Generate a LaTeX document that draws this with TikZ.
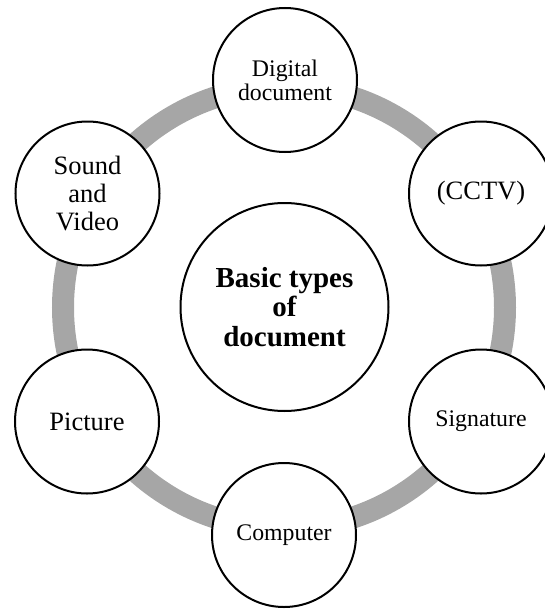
\documentclass[tikz,border=0pt]{standalone}
\usepackage{fontspec}
\setmainfont{Liberation Serif}
\definecolor{ringgray}{RGB}{166,166,166}
\begin{document}
\begin{tikzpicture}[x=1pt,y=-1pt,
  bubble/.style={circle, draw=black, line width=2pt, fill=white, minimum size=144pt, inner sep=0pt, align=center},
  big/.style={font=\fontsize{26.5}{27.7}\selectfont},
  small/.style={font=\fontsize{23.8}{24}\selectfont},
  hub/.style={circle, draw=black, line width=2pt, fill=white, minimum size=208pt, inner sep=0pt, align=center, font=\bfseries\fontsize{29}{29.5}\selectfont}]
\useasboundingbox (0,0) rectangle (545,610);
\clip (0,0) rectangle (545,610);
\coordinate (ringc) at (284,307.5);
\draw[ringgray, line width=22pt] (ringc) circle[radius=221];
\node[hub] (center) at (284.5,307) {Basic types\\of\\document};
\node[bubble, small] (digital) at (285,80) {Digital\\document};
\node[bubble, big] (cctv) at (481,193.5) {(CCTV)};
\node[bubble, small] (signature) at (481,421.5) {Signature};
\node[bubble, small] (computer) at (284,535) {Computer};
\node[bubble, big] (picture) at (87,421.5) {Picture};
\node[bubble, big] (sound) at (87.5,193.5) {Sound\\and\\Video};
\end{tikzpicture}
\end{document}
